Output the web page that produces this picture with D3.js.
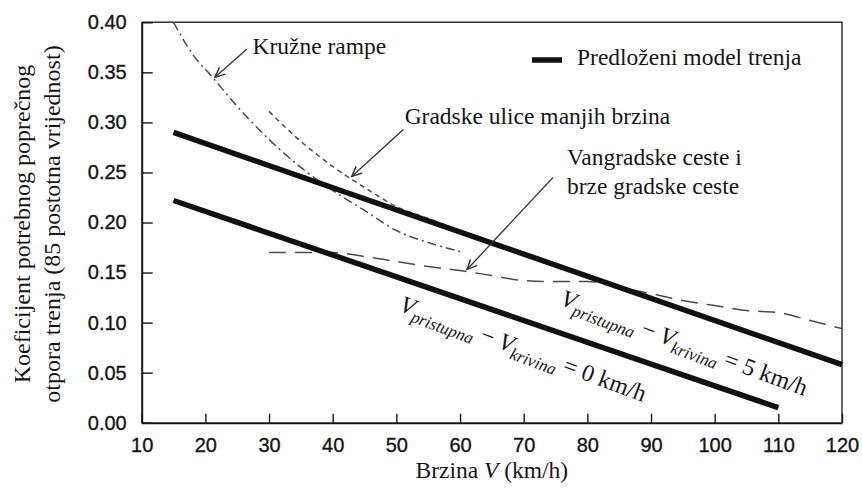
<!DOCTYPE html>
<html>
<head>
<meta charset="utf-8">
<script src="https://cdn.jsdelivr.net/npm/d3@7/dist/d3.min.js"></script>
<style>
  html, body { margin: 0; padding: 0; background: #ffffff; }
  svg { display: block; }
</style>
</head>
<body>
<svg id="chart" width="862" height="489"></svg>
<script>
// Axis ticks
const speedTicks = [10, 20, 30, 40, 50, 60, 70, 80, 90, 100, 110, 120];
const frictionTicks = [0.00, 0.05, 0.10, 0.15, 0.20, 0.25, 0.30, 0.35, 0.40];

// Proposed friction model (two straight lines)
const model5Speed = [15, 120];
const model5Friction = [0.290, 0.058];
const model0Speed = [15, 110];
const model0Friction = [0.222, 0.015];

// Kružne rampe (dash-dot)
const rampSpeed = [15, 18, 21, 25, 30, 35, 40, 45, 50, 55, 60];
const rampFriction = [0.400, 0.368, 0.346, 0.316, 0.283, 0.255, 0.232, 0.212, 0.192, 0.180, 0.171];

// Gradske ulice manjih brzina (short dash)
const urbanSpeed = [30, 35, 40, 45, 50, 55, 60, 65];
const urbanFriction = [0.311, 0.281, 0.256, 0.235, 0.216, 0.204, 0.192, 0.180];

// Vangradske ceste i brze gradske ceste (long dash)
const ruralSpeed = [30, 35, 40, 45, 50, 55, 60, 65, 70, 75, 80, 85, 90, 95, 100, 105, 110, 115, 120];
const ruralFriction = [0.170, 0.170, 0.170, 0.166, 0.161, 0.156, 0.152, 0.147, 0.142, 0.141, 0.141, 0.135, 0.129, 0.122, 0.117, 0.112, 0.110, 0.102, 0.094];

const svg = d3.select("#chart");
const plotLeft = 141.7, plotRight = 842, plotTop = 22.3, plotBottom = 422.7;

const x = d3.scaleLinear().domain([10, 120]).range([plotLeft, plotRight]);
const y = d3.scaleLinear().domain([0, 0.40]).range([plotBottom, plotTop]);

const ink = "#161616";
const serif = "Liberation Serif";
const sans = "Liberation Sans";

// Frame (top and right edges)
svg.append("path")
  .attr("d", `M${plotLeft},${plotTop}H${plotRight}V${plotBottom}`)
  .attr("fill", "none").attr("stroke", "#333").attr("stroke-width", 1.5);

// Axes with inward ticks
const yAxis = svg.append("g")
  .attr("transform", `translate(${plotLeft},0)`)
  .call(d3.axisLeft(y).tickValues(frictionTicks).tickFormat(d3.format(".2f"))
        .tickSizeInner(-11).tickSizeOuter(0).tickPadding(15));
const xAxis = svg.append("g")
  .attr("transform", `translate(0,${plotBottom})`)
  .call(d3.axisBottom(x).tickValues(speedTicks).tickFormat(d3.format("d"))
        .tickSizeInner(-9).tickSizeOuter(0).tickPadding(15));

[xAxis, yAxis].forEach(g => {
  g.attr("font-family", null).attr("font-size", null);
  g.select(".domain").attr("stroke", ink).attr("stroke-width", 2);
  g.selectAll(".tick line").attr("stroke", ink).attr("stroke-width", 1.4);
  g.selectAll(".tick text")
    .style("font-family", sans)
    .style("font-size", "20px")
    .attr("fill", ink)
    .attr("stroke", ink).attr("stroke-width", 0.35);
});

// Data curves
const line = d3.line().x(d => x(d[0])).y(d => y(d[1]));
const zipPts = (a, b) => a.map((v, i) => [v, b[i]]);

const curves = [
  { pts: zipPts(rampSpeed, rampFriction), dash: "9,4,2,4", width: 1.5, color: "#4a4a4a" },
  { pts: zipPts(urbanSpeed, urbanFriction), dash: "5,4", width: 1.5, color: "#4a4a4a" },
  { pts: zipPts(ruralSpeed, ruralFriction), dash: "17,9", width: 1.5, color: "#4a4a4a" }
];
curves.forEach(c => {
  svg.append("path")
    .attr("d", line.curve(d3.curveMonotoneX)(c.pts))
    .attr("fill", "none")
    .attr("stroke", c.color)
    .attr("stroke-width", c.width)
    .attr("stroke-dasharray", c.dash);
});

// Proposed model lines
[[model5Speed, model5Friction], [model0Speed, model0Friction]].forEach(([s, f]) => {
  svg.append("path")
    .attr("d", line.curve(d3.curveLinear)(zipPts(s, f)))
    .attr("fill", "none")
    .attr("stroke", "#111")
    .attr("stroke-width", 5.5);
});

// Arrow marker
svg.append("defs").append("marker")
  .attr("id", "arrow")
  .attr("viewBox", "0 0 12 12")
  .attr("refX", 11).attr("refY", 6)
  .attr("markerWidth", 12).attr("markerHeight", 12)
  .attr("markerUnits", "userSpaceOnUse")
  .attr("orient", "auto")
  .append("path")
  .attr("d", "M1,1.5 L11,6 L1,10.5")
  .attr("fill", "none").attr("stroke", "#333").attr("stroke-width", 1.4);

// Curve labels and their arrows (speed, friction)
const labelFont = "23.5px";
const labels = [
  { lines: ["Kružne rampe"], at: [27.4, 0.368], from: [26.5, 0.373], to: [21.5, 0.345] },
  { lines: ["Gradske ulice manjih brzina"], at: [51.3, 0.298], from: [51.1, 0.293], to: [43.0, 0.246] },
  { lines: ["Vangradske ceste i", "brze gradske ceste"], at: [76.8, 0.257], from: [74.6, 0.245], to: [61.1, 0.153] }
];
labels.forEach(l => {
  const t = svg.append("text")
    .attr("x", x(l.at[0])).attr("y", y(l.at[1]))
    .style("font-family", serif).style("font-size", labelFont).attr("fill", ink);
  l.lines.forEach((s, i) => {
    t.append("tspan").attr("x", x(l.at[0])).attr("dy", i === 0 ? 0 : 29).text(s);
  });
  svg.append("line")
    .attr("x1", x(l.from[0])).attr("y1", y(l.from[1]))
    .attr("x2", x(l.to[0])).attr("y2", y(l.to[1]))
    .attr("stroke", "#333").attr("stroke-width", 1.3)
    .attr("marker-end", "url(#arrow)");
});

// Legend
const legend = svg.append("g").attr("transform", "translate(532,60)");
legend.append("line").attr("x1", 0).attr("x2", 30).attr("y1", 0).attr("y2", 0)
  .attr("stroke", "#111").attr("stroke-width", 5.5);
legend.append("text").attr("x", 45).attr("y", 5)
  .style("font-family", serif).style("font-size", labelFont).attr("fill", ink)
  .text("Predloženi model trenja");

// Equations along the model lines
function equation(pos, angle, value) {
  const t = svg.append("text")
    .attr("transform", `translate(${x(pos[0])},${y(pos[1])}) rotate(${angle})`)
    .style("font-family", serif).style("font-size", "24px").attr("fill", ink);
  t.append("tspan").style("font-style", "italic").text("V");
  t.append("tspan").style("font-style", "italic").style("font-size", "17px").attr("dy", 6).text("pristupna");
  t.append("tspan").attr("dy", -6).text(" − ");
  t.append("tspan").style("font-style", "italic").text("V");
  t.append("tspan").style("font-style", "italic").style("font-size", "17px").attr("dy", 6).text("krivina");
  t.append("tspan").attr("dy", -6).text(` = ${value} km/h`);
}
equation([50.3, 0.112], 20.5, 0);
equation([75.6, 0.118], 20.5, 5);

// Axis titles
svg.append("text")
  .attr("x", (plotLeft + plotRight) / 2).attr("y", 478)
  .attr("text-anchor", "middle")
  .style("font-family", serif).style("font-size", labelFont).attr("fill", ink)
  .call(t => {
    t.append("tspan").text("Brzina ");
    t.append("tspan").style("font-style", "italic").text("V");
    t.append("tspan").text(" (km/h)");
  });

const yTitle = svg.append("text")
  .attr("transform", "translate(0,224) rotate(-90)")
  .attr("text-anchor", "middle")
  .style("font-family", serif).style("font-size", "24px").attr("fill", ink);
yTitle.append("tspan").attr("x", 0).attr("y", 30).text("Koeficijent potrebnog poprečnog");
yTitle.append("tspan").attr("x", 0).attr("y", 60).text("otpora trenja (85 postotna vrijednost)");
</script>
</body>
</html>
